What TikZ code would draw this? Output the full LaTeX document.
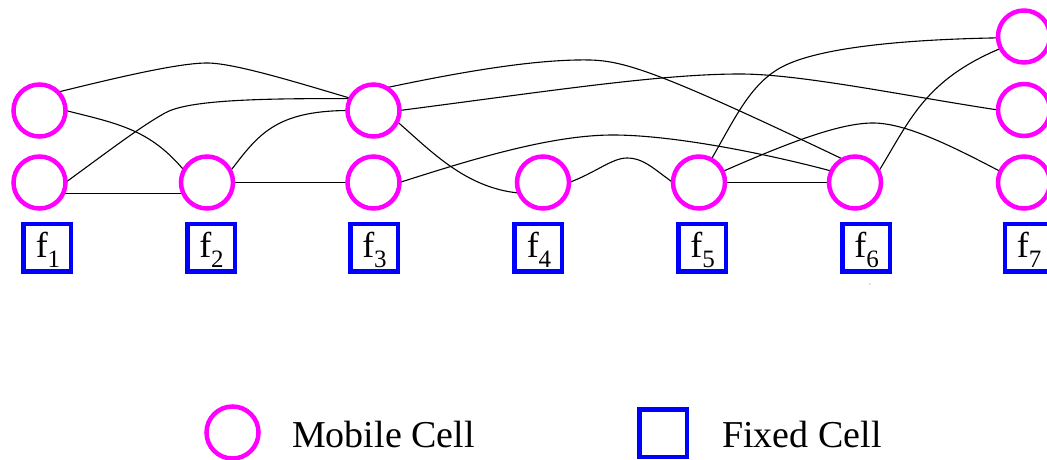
\documentclass[tikz,border=0pt]{standalone}
\usepackage{fontspec}
\setmainfont{Liberation Serif}
\usetikzlibrary{backgrounds}
\definecolor{cellmag}{RGB}{255,0,255}
\definecolor{cellblue}{RGB}{0,0,255}
\newcommand{\fsub}[1]{f\raisebox{-10pt}{\fontsize{25}{25}\selectfont #1}}

\begin{document}
\begin{tikzpicture}[x=1pt,y=-1pt,
  mobile/.style={circle,draw=cellmag,line width=4.5pt,minimum size=52pt,inner sep=0pt,outer sep=0pt},
  fixed/.style={rectangle,draw=cellblue,line width=4.5pt,minimum size=47.5pt,inner sep=0pt,outer sep=0pt},
  flabel/.style={anchor=base,inner sep=0pt,font=\fontsize{36}{36}\selectfont},
  legendtext/.style={anchor=base west,inner sep=0pt,font=\fontsize{38}{38}\selectfont},
  link/.style={draw=black,line width=1.1pt}]

\useasboundingbox (0,0) rectangle (1047,460);

% mobile cells
\node[mobile] (A1) at (39.5,110.5) {};
\node[mobile] (B1) at (39.5,182.5) {};
\node[mobile] (B2) at (207,182.5) {};
\node[mobile] (A3) at (373.5,110.5) {};
\node[mobile] (B3) at (373.5,182.5) {};
\node[mobile] (B4) at (543,182.5) {};
\node[mobile] (B5) at (699,182.5) {};
\node[mobile] (B6) at (855,182.5) {};
\node[mobile] (T7) at (1024,36.5) {};
\node[mobile] (M7) at (1024,110) {};
\node[mobile] (B7) at (1024,182.5) {};

% fixed cells with their labels
\node[fixed] (F1) at (47,247.5) {};
\node[fixed] (F2) at (211,247.5) {};
\node[fixed] (F3) at (374,247.5) {};
\node[fixed] (F4) at (538,247.5) {};
\node[fixed] (F5) at (702,247.5) {};
\node[fixed] (F6) at (866,247.5) {};
\node[fixed] (F7) at (1028.5,247.5) {};
\node[flabel] (L1) at (48,257) {\fsub{1}};
\node[flabel] (L2) at (211.5,257) {\fsub{2}};
\node[flabel] (L3) at (374.5,257) {\fsub{3}};
\node[flabel] (L4) at (539,257) {\fsub{4}};
\node[flabel] (L5) at (702.5,257) {\fsub{5}};
\node[flabel] (L6) at (866.5,257) {\fsub{6}};
\node[flabel] (L7) at (1029,257) {\fsub{7}};

\fill[black!55] (870,284) circle (0.6pt);

% legend
\node[mobile] (LM) at (232.5,432.5) {};
\node[legendtext] (TM) at (292,447) {Mobile Cell};
\node[fixed] (LF) at (663,433) {};
\node[legendtext] (TF) at (722,447) {Fixed Cell};

% connections
\begin{pgfonlayer}{background}
\draw[link] (A1.45) .. controls (123,76) and (180,63) .. (207,63)
            .. controls (235,63) and (302,84) .. (A3.152);
\draw[link] (A1.0) .. controls (120,124) and (150,130) .. (B2.152);
\draw[link] (B1.0) .. controls (110,150) and (140,127) .. (165,113)
            .. controls (185,101.8) and (240,98) .. (A3.153);
\draw[link] (B1.-25) -- (B2.205);
\draw[link] (B2.26) .. controls (258,135) and (275,111) .. (A3.180);
\draw[link] (B2.0) -- (B3.180);
\draw[link] (A3.61) .. controls (470,70) and (540,59) .. (590,60)
            .. controls (625,61) and (660,72) .. (B6.117);
\draw[link] (A3.0) .. controls (550,91) and (660,74) .. (740,74)
            .. controls (800,74) and (900,95) .. (M7.180);
\draw[link] (B3.0) .. controls (470,160) and (550,135) .. (613,135)
            .. controls (670,135) and (760,152) .. (B6.154);
\draw[link] (A3.-25) .. controls (430,150) and (465,188) .. (B4.204);
\draw[link] (B4.0) .. controls (595,173) and (612,158) .. (627,158)
            .. controls (644,158) and (655,170) .. (B5.180);
\draw[link] (B5.0) -- (B6.180);
\draw[link] (B5.25) .. controls (790,142) and (840,123) .. (873,123)
            .. controls (905,123) and (950,145) .. (B7.155);
\draw[link] (B5.62) .. controls (735,118) and (750,85) .. (780,68)
            .. controls (810,51) and (880,40) .. (T7.183);
\draw[link] (B6.25) .. controls (910,120) and (925,80) .. (T7.207);
\end{pgfonlayer}
\end{tikzpicture}
\end{document}
